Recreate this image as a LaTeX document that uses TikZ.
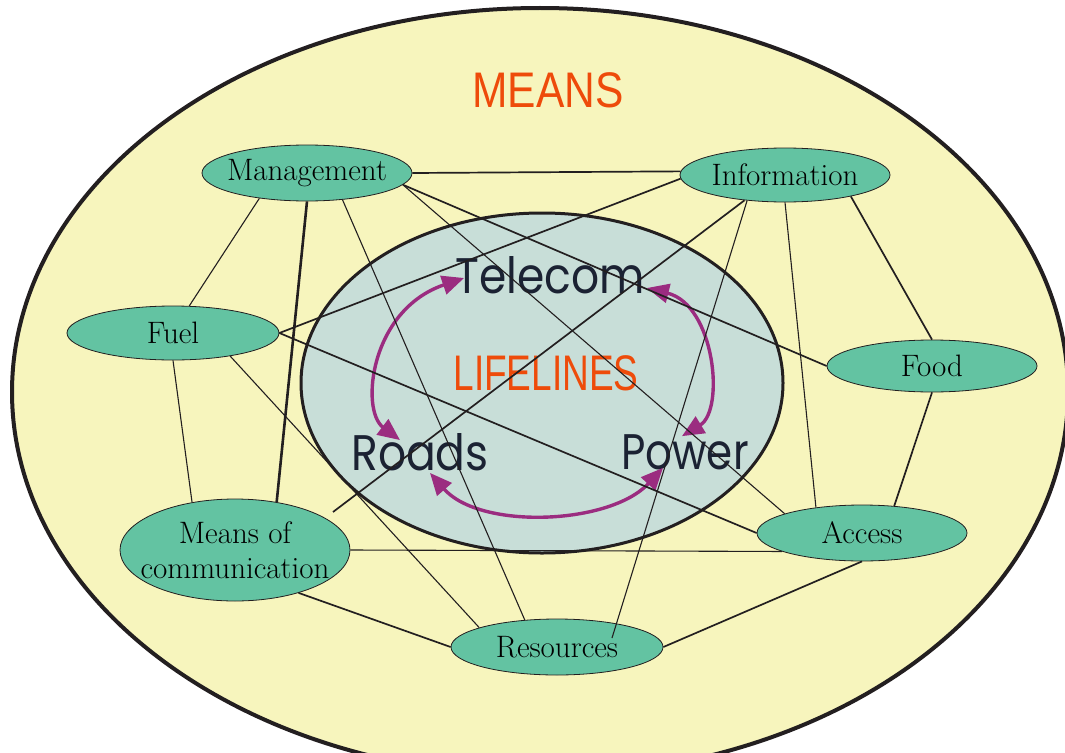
\documentclass[tikz,border=0pt]{standalone}
\usepackage{fontspec}
\usepackage{graphicx}
\newfontfamily\titlefont{Liberation Sans}
\newfontfamily\lifefont{Poppins}
\usetikzlibrary{shapes.geometric,arrows.meta,calc}
\definecolor{meansbg}{HTML}{F7F5BD}
\definecolor{lifebg}{HTML}{C8DED8}
\definecolor{nodegreen}{HTML}{63C3A2}
\definecolor{dark}{HTML}{231F20}
\definecolor{purp}{HTML}{9B2C80}
\definecolor{redtitle}{HTML}{EE4B0A}
\definecolor{lifetext}{HTML}{1B2233}

\begin{document}
\begin{tikzpicture}[x=1pt, y=-1pt, font=\fontsize{31}{35}\selectfont,
    means/.style={ellipse, draw=dark, line width=0.8pt, fill=nodegreen, inner sep=0pt},
    link/.style={dark, line width=1.7pt},
    thinlink/.style={dark, line width=1.1pt},
    lifearrow/.style={purp, line width=3.4pt,
      {Triangle[length=22pt,width=19pt]}-{Triangle[length=22pt,width=19pt]}},
    life/.style={font=\lifefont\fontsize{50}{50}\selectfont, text=lifetext, inner sep=0pt},
    baslik/.style={font=\titlefont\fontsize{50}{50}\selectfont, text=redtitle, inner sep=0pt}]
  \useasboundingbox (0,0) rectangle (1065,752);
  \clip (0,0) rectangle (1065,752);

  % dis halka ve ic halka
  \draw[dark, line width=4pt, fill=meansbg] (540,392) ellipse [x radius=528, y radius=384];
  \draw[dark, line width=3pt, fill=lifebg] (542,383) ellipse [x radius=241, y radius=170];
  \node[baslik] (meanstitle) at (548,90) {\scalebox{0.85}[1]{MEANS}};
  \node[baslik] (lifetitle) at (546,373) {\scalebox{0.74}[1]{LIFELINES}};

  % lifelines
  \node[life] (tel) at (550,275) {\scalebox{0.88}[1]{Telecom}};
  \node[life] (roads) at (420,452) {\scalebox{0.88}[1]{Roads}};
  \node[life] (power) at (685,452) {\scalebox{0.84}[1]{Power}};
  \draw[lifearrow] ($(roads.north)+(-20,7)$) .. controls (360,410) and (370,310) .. ($(tel.west)+(9,3)$);
  \draw[lifearrow] ($(tel.east)+(2,13)$) .. controls (715,305) and (725,410) .. ($(power.north)+(-3,2)$);
  \draw[lifearrow] ($(roads.south)+(10,2)$) .. controls (480,530) and (610,525) .. ($(power.south)+(-22,-2)$);

  % means
  \node[means, minimum width=210pt, minimum height=56pt, label=center:Management] (mgmt) at (307,173) {};
  \node[means, minimum width=210pt, minimum height=54pt, label=center:Information] (info) at (785,175) {};
  \node[means, minimum width=212pt, minimum height=54pt, label=center:Fuel] (fuel) at (173,333) {};
  \node[means, minimum width=210pt, minimum height=52pt, label=center:Food] (food) at (932,366) {};
  \node[means, minimum width=230pt, minimum height=102pt,
    label={[align=center]center:Means of\\communication}] (comm) at (235,550) {};
  \node[means, minimum width=210pt, minimum height=56pt, label=center:Access] (access) at (862,533) {};
  \node[means, minimum width=212pt, minimum height=56pt, label=center:Resources] (res) at (557,647) {};
  \coordinate (commfree) at (333,512);
  \coordinate (resin) at (612,638);

  % baglantilar
  \draw[link] (mgmt.east) -- (info.178);
  \draw[link] (fuel.east) -- (info.182);
  \draw[link] (mgmt.-7) -- (food.west);
  \draw[thinlink] (mgmt.-7) -- (access.166);
  \draw[thinlink] (mgmt.-37) -- (res.140);
  \draw[dark, line width=2.6pt] (mgmt.south) -- (comm.49);
  \draw[thinlink] (mgmt.208) -- (fuel.59);
  \draw[link] (info.212) -- (commfree);
  \draw[thinlink] (info.214) -- (resin);
  \draw[thinlink] (info.south) -- (access.151);
  \draw[link] (info.-18) -- (food.north);
  \draw[link] (fuel.east) -- (access.west);
  \draw[thinlink] (fuel.-22) -- (res.166);
  \draw[thinlink] (fuel.south) -- (comm.132);
  \draw[thinlink] (comm.east) -- (access.193);
  \draw[link] (comm.-34) -- (res.west);
  \draw[link] (access.south) -- (res.east);
  \draw[link] (food.south) -- (access.40);
\end{tikzpicture}
\end{document}
